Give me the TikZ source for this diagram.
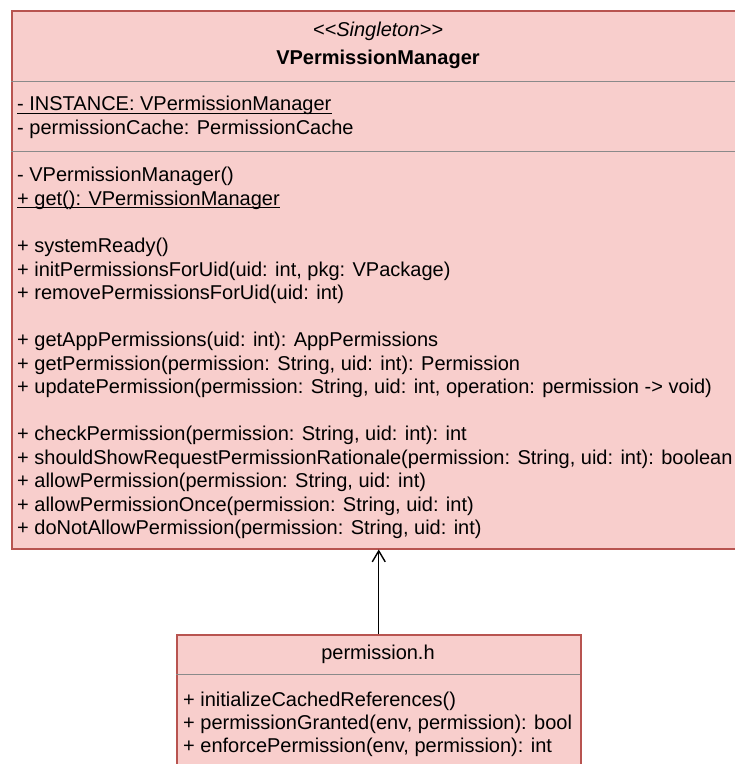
\documentclass[tikz,border=0pt]{standalone}
\usepackage{fontspec}
\setmainfont{Liberation Sans}
\usetikzlibrary{arrows.meta}

\definecolor{boxfill}{HTML}{F8CECC}
\definecolor{boxline}{HTML}{B85450}
\definecolor{sepline}{HTML}{8A8A8A}

\tikzset{
  classbox/.style={draw=boxline, fill=boxfill, line width=1.5pt, inner sep=0pt, anchor=north west},
  member/.style={anchor=base west, inner sep=0pt, font=\fontsize{20}{24}\selectfont},
  title/.style={anchor=base, inner sep=0pt, font=\fontsize{20}{24}\selectfont},
  sep/.style={draw=sepline, line width=1pt},
  uline/.style={draw=black, line width=0.9pt},
  assoc/.style={draw=black, line width=1.4pt, -{Straight Barb[length=11pt,width=13pt,line width=1.4pt]}}
}

\begin{document}
\begin{tikzpicture}[x=1pt, y=-1pt]
\clip (0,0) rectangle (735,764);
\fill[white] (0,0) rectangle (735,764);

% VPermissionManager class
\node[classbox, minimum width=734pt, minimum height=538pt] (vpm) at (11,10) {};
\draw[sep] (11,81) -- (745,81);
\draw[sep] (11,151) -- (745,151);

\node[title] (stereo) at (378,36) {\itshape {<}{<}Singleton{>}{>}};
\node[title] (vpmname) at (378,64) {\bfseries VPermissionManager};

\node[member] (f1) at (17,110.5) {- INSTANCE: VPermissionManager};
\draw[uline] ([yshift=-2.6pt]f1.base west) -- ([yshift=-2.6pt]f1.base east);
\node[member] (f2) at (17,134) {- permissionCache: PermissionCache};

\node[member] (m1) at (17,181.5) {- VPermissionManager()};
\node[member] (m2) at (17,205) {+ get(): VPermissionManager};
\draw[uline] ([yshift=-2.6pt]m2.base west) -- ([yshift=-2.6pt]m2.base east);

\node[member] (m3) at (17,252.5) {+ systemReady()};
\node[member] (m4) at (17,276) {+ initPermissionsForUid(uid: int, pkg: VPackage)};
\node[member] (m5) at (17,299.5) {+ removePermissionsForUid(uid: int)};

\node[member] (m6) at (17,346.5) {+ getAppPermissions(uid: int): AppPermissions};
\node[member] (m7) at (17,370) {+ getPermission(permission: String, uid: int): Permission};
\node[member] (m8) at (17,393.5) {+ updatePermission(permission: String, uid: int, operation: permission -> void)};

\node[member] (m9) at (17,440.5) {+ checkPermission(permission: String, uid: int): int};
\node[member] (m10) at (17,464) {+ shouldShowRequestPermissionRationale(permission: String, uid: int): boolean};
\node[member] (m11) at (17,487.5) {+ allowPermission(permission: String, uid: int)};
\node[member] (m12) at (17,511) {+ allowPermissionOnce(permission: String, uid: int)};
\node[member] (m13) at (17,534.5) {+ doNotAllowPermission(permission: String, uid: int)};

% permission.h
\node[classbox, minimum width=404pt, minimum height=170pt] (ph) at (176,634) {};
\draw[sep] (176,674) -- (580,674);
\node[title] (phname) at (378,659) {permission.h};
\node[member] (p1) at (183,706) {+ initializeCachedReferences()};
\node[member] (p2) at (183,729) {+ permissionGranted(env, permission): bool};
\node[member] (p3) at (183,752) {+ enforcePermission(env, permission): int};

% dependency
\draw[assoc] (ph.north) -- (vpm.south);
\end{tikzpicture}
\end{document}
